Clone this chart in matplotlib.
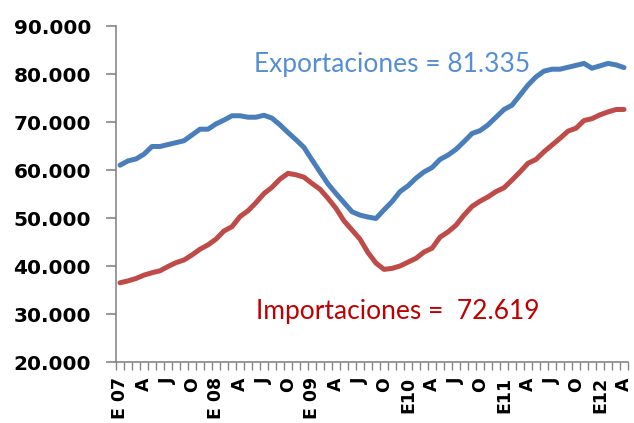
import matplotlib
matplotlib.use("Agg")
import matplotlib.pyplot as plt
from matplotlib.ticker import FixedLocator, FuncFormatter

# Monthly data, Jan 2007 .. Apr 2012 (64 months)
exportaciones = [61.0, 61.9, 62.3, 63.3, 64.9, 64.9, 65.3, 65.7, 66.1, 67.3, 68.5, 68.5,
                 69.6, 70.4, 71.3, 71.3, 71.0, 71.0, 71.4, 70.8, 69.4, 67.8, 66.3, 64.7,
                 62.1, 59.6, 57.1, 55.1, 53.2, 51.3, 50.6, 50.2, 49.9, 51.7, 53.4, 55.5,
                 56.7, 58.3, 59.6, 60.5, 62.2, 63.1, 64.3, 65.9, 67.6, 68.2, 69.4, 71.0,
                 72.6, 73.5, 75.6, 77.7, 79.4, 80.6, 81.0, 81.0, 81.4, 81.8, 82.2, 81.2,
                 81.7, 82.2, 81.9, 81.335]
importaciones = [36.5, 36.9, 37.4, 38.1, 38.6, 39.0, 39.9, 40.7, 41.25, 42.3, 43.5, 44.4,
                 45.6, 47.3, 48.2, 50.3, 51.5, 53.2, 55.1, 56.4, 58.1, 59.3, 59.0, 58.5,
                 57.2, 56.0, 54.1, 52.0, 49.4, 47.5, 45.6, 42.8, 40.6, 39.3, 39.5, 40.0,
                 40.8, 41.6, 42.9, 43.7, 46.0, 47.1, 48.5, 50.6, 52.4, 53.5, 54.4, 55.5,
                 56.3, 57.9, 59.6, 61.4, 62.2, 63.8, 65.2, 66.6, 68.1, 68.7, 70.3, 70.7,
                 71.5, 72.1, 72.6, 72.619]
x_labels = ["E 07", "A", "J", "O", "E 08", "A", "J", "O", "E 09", "A", "J", "O",
            "E10", "A", "J", "O", "E11", "A", "J", "O", "E12", "A"]
y_ticks = [20, 30, 40, 50, 60, 70, 80, 90]
export_label = "Exportaciones = 81.335"
import_label = "Importaciones =  72.619"

n = len(exportaciones)
xs = [i + 0.5 for i in range(n)]

fig = plt.figure(figsize=(6.34, 4.23), dpi=100)
ax = fig.add_axes([116/634, 1 - 362/423, (628-116)/634, (362-26)/423])

blue = "#4A7EBB"
red = "#BE4B48"
ax.plot(xs, exportaciones, color=blue, lw=3.6, solid_capstyle="round", solid_joinstyle="round")
ax.plot(xs, importaciones, color=red, lw=3.6, solid_capstyle="round", solid_joinstyle="round")

ax.set_xlim(0, n)
ax.set_ylim(20, 90)

spine_c = "#868686"
for s in ["top", "right"]:
    ax.spines[s].set_visible(False)
for s in ["left", "bottom"]:
    ax.spines[s].set_color(spine_c)
    ax.spines[s].set_linewidth(1.2)

ax.set_yticks(y_ticks)
ax.yaxis.set_major_formatter(FuncFormatter(lambda v, p: f"{int(v)}.000"))
ax.tick_params(axis="y", direction="out", length=7, width=1.2, color=spine_c, pad=11)
for lab in ax.get_yticklabels():
    lab.set_fontfamily("DejaVu Sans")
    lab.set_fontweight("bold")
    lab.set_fontsize(14.5)

label_pos = [xs[i] for i in range(0, n, 3)]
ax.xaxis.set_major_locator(FixedLocator(label_pos))
ax.set_xticklabels(x_labels, rotation=90, fontfamily="DejaVu Sans", fontweight="bold",
                   fontsize=12.5, va="top")
ax.xaxis.set_minor_locator(FixedLocator(list(range(n + 1))))
ax.tick_params(axis="x", which="major", length=0, pad=11)
ax.tick_params(axis="x", which="minor", direction="out", length=6, width=1, color=spine_c)

ax.text(17.3, 80.4, export_label, color="#558ED5", fontsize=19, fontfamily="Lato",
        va="baseline", ha="left")
ax.text(17.5, 28.96, import_label, color="#C00000", fontsize=19, fontfamily="Lato",
        va="baseline", ha="left")

fig.savefig("out.png", dpi=100)
